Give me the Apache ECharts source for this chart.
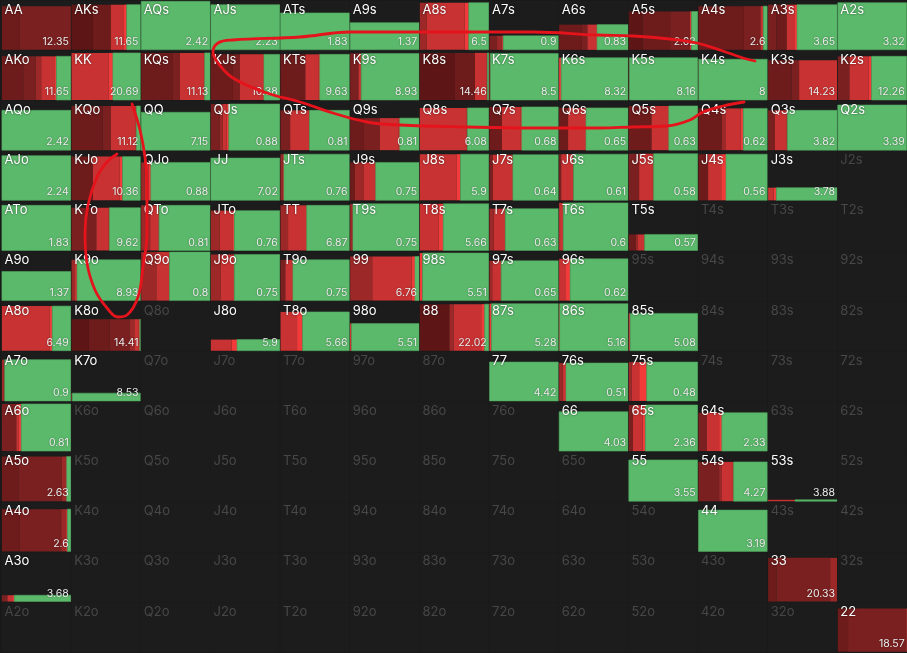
<!DOCTYPE html>
<html><head><meta charset="utf-8">
<style>html,body{margin:0;padding:0;background:#181818}#c{width:907px;height:653px}</style>
<script src="https://cdn.jsdelivr.net/npm/echarts@6/dist/echarts.min.js"></script>
</head><body><div id="c"></div>
<script>
const ranks = ['A','K','Q','J','T','9','8','7','6','5','4','3','2'];
const shades = ['#5e1515','#6e1b1b','#7b2020','#9c2828','#c93232','#f23a3a','#5bb96b'];
const N = null;
const values = [
 [12.35,11.65,2.42,2.23,1.83,1.37,6.5,0.9,0.83,2.62,2.6,3.65,3.32],
 [11.65,20.69,11.13,10.38,9.63,8.93,14.46,8.5,8.32,8.16,8,14.23,12.26],
 [2.42,11.12,7.15,0.88,0.81,0.81,6.08,0.68,0.65,0.63,0.62,3.82,3.39],
 [2.24,10.36,0.88,7.02,0.76,0.75,5.9,0.64,0.61,0.58,0.56,3.78,N],
 [1.83,9.62,0.81,0.76,6.87,0.75,5.66,0.63,0.6,0.57,N,N,N],
 [1.37,8.93,0.8,0.75,0.75,6.76,5.51,0.65,0.62,N,N,N,N],
 [6.49,14.41,N,5.9,5.66,5.51,22.02,5.28,5.16,5.08,N,N,N],
 [0.9,8.53,N,N,N,N,N,4.42,0.51,0.48,N,N,N],
 [0.81,N,N,N,N,N,N,N,4.03,2.36,2.33,N,N],
 [2.63,N,N,N,N,N,N,N,N,3.55,4.27,3.88,N],
 [2.6,N,N,N,N,N,N,N,N,N,3.19,N,N],
 [3.68,N,N,N,N,N,N,N,N,N,N,20.33,N],
 [N,N,N,N,N,N,N,N,N,N,N,N,18.57]
];
const heights = [
 [.90,.93,1,.93,.76,.56,.97,.29,.52,.79,.90,.93,.97],
 [.90,.97,.97,.94,.94,.96,.97,.96,.87,.87,.84,.82,.90],
 [.82,.91,.78,.95,.82,.66,.87,.89,.87,.91,.86,.82,.93],
 [.92,.90,.78,.87,.95,.78,.95,.94,.95,.96,.95,.26,0],
 [.93,.88,.93,.82,.93,.96,.96,.86,.98,.33,0,0,0],
 [.60,.84,1,.95,.84,.91,.98,.82,.86,0,0,0,0],
 [.92,.65,0,.23,.80,.56,.96,.97,.97,.77,0,0,0],
 [.85,.16,0,0,0,0,0,.80,.78,.80,0,0,0],
 [.97,0,0,0,0,0,0,0,.81,.95,.79,0,0],
 [.92,0,0,0,0,0,0,0,0,.85,.81,.03,0],
 [.87,0,0,0,0,0,0,0,0,0,.85,0,0],
 [.13,0,0,0,0,0,0,0,0,0,0,.90,0],
 [0,0,0,0,0,0,0,0,0,0,0,0,.89]
];
const G = [[6,100]];
const E = [];
const mixRowA = [[[1,26],[2,74]],[[0,31],[1,26],[4,19],[5,4],[6,20]],G,G,G,G,[[3,10],[4,55],[5,6],[6,29]],[[2,11],[3,7],[4,2],[6,80]],[[1,33],[2,8],[4,14],[6,45]],[[0,20],[1,40],[2,29],[5,2],[6,9]],[[1,66],[2,24],[4,4],[6,6]],[[2,12],[1,15],[4,12],[5,3],[6,58]],G];
const mixRowK = [[[1,31],[2,18],[3,8],[4,19],[5,3],[6,21]],[[4,54],[5,6],[6,40]],[[1,46],[2,10],[4,35],[5,1],[6,8]],[[1,32],[2,10],[4,34],[5,1],[6,23]],[[1,36],[4,19],[5,2],[6,43]],[[2,12],[4,4],[6,84]],[[0,51],[1,29],[4,17],[5,1],[6,2]],[[4,1.5],[6,98.5]],[[5,3],[6,97]],[[3,1],[6,99]],[[3,.5],[6,99.5]],[[1,34],[2,11],[4,55]],[[2,17],[4,28],[5,4],[6,51]]];
const mixRowQ = [G,[[1,45],[2,12],[4,36],[5,1],[6,6]],G,[[2,13],[3,4],[4,6],[5,3],[6,74]],[[2,14],[4,28],[6,58]],[[1,20],[2,23],[4,27],[5,2],[6,28]],[[4,68],[5,1],[6,31]],[[1,18],[4,27],[5,2],[6,53]],[[1,13],[4,25],[5,1],[6,61]],[[1,33],[4,24],[5,1],[6,42]],[[1,34],[3,6],[4,21],[5,4],[6,35]],[[2,10],[4,17],[5,1],[6,72]],G];
const mixRowJ = [G,[[1,31],[4,39],[5,4],[6,26]],[[3,5],[4,6],[5,3],[6,86]],G,[[3,3],[4,2],[6,95]],[[1,7],[3,13],[4,16],[5,1],[6,63]],[[4,53],[5,6],[6,41]],[[2,5],[4,29],[6,66]],[[2,3],[4,18],[6,79]],[[2,15],[4,20],[5,1],[6,64]],[[1,14],[4,19],[5,7],[6,60]],[[4,8],[5,4],[6,88]],E];
const mixRowT = [G,[[2,36],[4,18],[5,1],[6,45]],[[3,13],[4,12],[5,1],[6,74]],[[3,13],[4,19],[5,2],[6,66]],[[3,11],[4,26],[5,1],[6,62]],[[3,4],[6,96]],[[4,27],[5,7],[6,66]],[[3,6],[4,17],[6,77]],[[4,6],[6,94]],[[1,10],[3,3],[4,10],[6,77]],E,E,E];
const mixRow9 = [G,[[3,4],[4,4],[6,92]],[[3,22],[4,19],[6,59]],[[3,14],[4,20],[6,66]],[[2,7],[4,11],[6,82]],[[3,32],[4,57],[5,5],[6,6]],[[5,4],[6,96]],[[3,4],[4,13],[6,83]],[[4,10],[5,6],[6,84]],E,E,E,E];
const mixRow8 = [[[4,69],[5,4],[6,27]],[[0,25],[1,30],[2,29],[3,7],[4,6],[5,2],[6,1]],E,[[4,30],[5,8],[6,62]],[[4,24],[5,8],[6,68]],[[5,2],[6,98]],[[0,43],[3,6],[4,40],[5,5],[6,6]],[[5,3],[6,97]],[[5,1],[6,99]],[[4,2],[6,98]],E,E,E];
const mixRow7 = [[[3,4],[6,96]],[[4,1],[6,99]],E,E,E,E,E,G,[[3,5],[4,5],[6,90]],[[3,4],[4,11],[5,11],[6,74]],E,E,E];
const mixRow6 = [[[2,21],[4,3],[5,4],[6,72]],E,E,E,E,E,E,E,G,[[2,6],[4,14],[5,4],[6,76]],[[2,12],[4,18],[5,4],[6,66]],E,E];
const mixRow5 = [[[1,24],[2,63],[3,5],[4,2],[6,6]],E,E,E,E,E,E,E,E,G,[[2,30],[3,4],[4,16],[5,1],[6,49]],[[4,39],[6,61]],E];
const mixRow4 = [[[1,26],[2,60],[3,7],[4,2],[6,5]],E,E,E,E,E,E,E,E,E,G,E,E];
const mixRow3 = [[[2,8],[4,7],[5,3],[6,82]],E,E,E,E,E,E,E,E,E,E,[[1,12],[2,78],[3,10]],E];
const mixRow2 = [E,E,E,E,E,E,E,E,E,E,E,E,[[1,15],[2,84],[4,1]]];
const mixes = [mixRowA,mixRowK,mixRowQ,mixRowJ,mixRowT,mixRow9,mixRow8,mixRow7,mixRow6,mixRow5,mixRow4,mixRow3,mixRow2];
const strokeOneX = [755,743,720,697,670,633,597,533,467,400,350,300,233,218,213,218,233,267,300,333,367,400,467,533,600,633,667,690,703,723,744];
const strokeOneY = [61,58,50,43,39,36,35,32,32,32,32,37,40,43,52,63,78,93,102,113,122,125,127,128,128,127,126,120,112,106,102];
const strokeTwoX = [132,140,145,147,147,147,143,138,127,118,107,95,87,85,88,97,107,117];
const strokeTwoY = [104,130,157,187,200,233,267,297,315,317,308,290,263,233,205,177,162,154];

function handName(r,c){ return r===c ? ranks[r]+ranks[c] : c>r ? ranks[r]+ranks[c]+'s' : ranks[c]+ranks[r]+'o'; }
const cells = [];
ranks.forEach((_,r)=>ranks.forEach((_,c)=>cells.push([c,r])));
const FONT = 'Inter, Roboto, sans-serif';
function renderCell(params, api){
  const c = api.value(0), r = api.value(1);
  const p = api.coord([c,r]), s = api.size([1,1]);
  const W = s[0]-0.7, H = s[1]-1.6;
  const x0 = p[0]-s[0]/2+0.4, bottom = p[1]+s[1]/2-0.3, top = bottom-H;
  const kids = [{type:'rect',shape:{x:x0-.4,y:bottom-H-.6,width:s[0]-.3,height:s[1]-.4},style:{fill:'#1c1c1c'},silent:true}];
  const v = values[r][c], h = heights[r][c]*H;
  let x = x0;
  mixes[r][c].forEach(seg=>{
    const w = seg[1]/100*W;
    kids.push({type:'rect',shape:{x:x,y:bottom-h,width:w,height:h},style:{fill:shades[seg[0]],stroke:seg[0]===6?'#4fa65e':null,lineWidth:seg[0]===6?0.6:0}});
    x += w;
  });
  const active = v!==null;
  kids.push({type:'text',style:{x:x0+2.6,y:top+2,text:handName(r,c),fill:active?'#fff':'#474747',font:'13px '+FONT,textAlign:'left',textVerticalAlign:'top',textShadowColor:active?'rgba(0,0,0,.65)':'transparent',textShadowBlur:active?2:0}});
  if(active) kids.push({type:'text',style:{x:x0+W-2,y:bottom-2.5,text:String(v),fill:'#eeeeee',font:'10.5px '+FONT,textAlign:'right',textVerticalAlign:'bottom',textShadowColor:'rgba(0,0,0,.5)',textShadowBlur:1.5}});
  return {type:'group',children:kids};
}
const hiddenCat = (inv)=>({type:'category',data:ranks,inverse:inv,show:false,boundaryGap:true});
const pair = (xs,ys)=>xs.map((x,i)=>[x,ys[i]]);
const stroke = (xs,ys)=>({type:'line',xAxisIndex:1,yAxisIndex:1,data:pair(xs,ys),smooth:0.4,symbol:'none',z:10,silent:true,animation:false,lineStyle:{color:'#e5141c',width:2.8,cap:'round',join:'round'}});
const chart = echarts.init(document.getElementById('c'),null,{renderer:'canvas'});
chart.setOption({
  animation:false,
  backgroundColor:'#181818',
  grid:[{left:1.5,top:-1.25,width:906,height:653.25,containLabel:false},{left:0,top:0,width:907,height:653}],
  xAxis:[hiddenCat(false),{type:'value',gridIndex:1,min:0,max:907,show:false}],
  yAxis:[hiddenCat(true),{type:'value',gridIndex:1,min:0,max:653,inverse:true,show:false}],
  series:[
    {type:'custom',data:cells,renderItem:renderCell,silent:true,clip:false,z:2},
    stroke(strokeOneX,strokeOneY),
    stroke(strokeTwoX,strokeTwoY)
  ]
});
</script></body></html>
